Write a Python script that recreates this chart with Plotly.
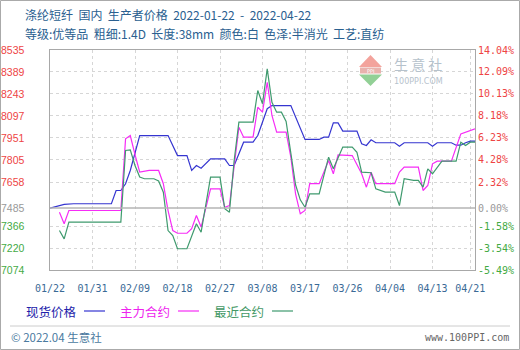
import plotly.graph_objects as go

# ---------------- data ----------------
spot_dates = ["2022-01-22","2022-01-25","2022-01-27","2022-02-04","2022-02-05","2022-02-06","2022-02-07","2022-02-08",
              "2022-02-10","2022-02-16","2022-02-18","2022-02-20","2022-02-21","2022-02-22","2022-02-23","2022-02-25",
              "2022-02-28","2022-03-01","2022-03-02","2022-03-03","2022-03-04","2022-03-06","2022-03-07","2022-03-09",
              "2022-03-10","2022-03-14","2022-03-17","2022-03-20","2022-03-21","2022-03-22","2022-03-23","2022-03-24",
              "2022-03-25","2022-03-28","2022-03-29","2022-03-30","2022-03-31","2022-04-01","2022-04-05","2022-04-06",
              "2022-04-07","2022-04-12","2022-04-13","2022-04-14","2022-04-17","2022-04-18","2022-04-19","2022-04-20",
              "2022-04-21","2022-04-22"]
spot_vals = [7485,7510,7514,7514,7602,7602,7647,7735,7967,7967,7834,7834,7735,7768,7750,7812,7812,7768,7768,7846,
             7923,7923,7967,8145,8166,8166,7941,7941,7956,7956,8051,8051,7996,7996,7912,7901,7939,7919,7919,7896,
             7919,7919,7896,7919,7919,7903,7903,7919,7930,7930]

main_dates = ["2022-01-24","2022-01-25","2022-01-26","2022-02-06","2022-02-07","2022-02-08","2022-02-09","2022-02-10",
              "2022-02-12","2022-02-14","2022-02-15","2022-02-16","2022-02-17","2022-02-18","2022-02-20","2022-02-21",
              "2022-02-22","2022-02-23","2022-02-25","2022-02-27","2022-02-28","2022-03-01","2022-03-03","2022-03-04",
              "2022-03-06","2022-03-07","2022-03-08","2022-03-09","2022-03-10","2022-03-11","2022-03-13","2022-03-14",
              "2022-03-15","2022-03-16","2022-03-17","2022-03-18","2022-03-20","2022-03-22","2022-03-23","2022-03-24",
              "2022-03-27","2022-03-29","2022-03-30","2022-03-31","2022-04-01","2022-04-05","2022-04-06","2022-04-07",
              "2022-04-10","2022-04-11","2022-04-12","2022-04-13","2022-04-14","2022-04-17","2022-04-19","2022-04-21",
              "2022-04-22"]
main_vals = [7458,7381,7469,7469,7945,7967,7840,7724,7735,7735,7647,7469,7336,7318,7318,7348,7436,7359,7613,7613,
             7491,7502,8022,7956,7956,8155,8122,8321,8100,7989,7989,7823,7580,7447,7469,7647,7647,7801,7713,7839,
             7834,7713,7624,7724,7647,7647,7724,7757,7757,7602,7635,7779,7797,7797,7978,8000,8012]

near_dates = ["2022-01-24","2022-01-25","2022-01-26","2022-02-06","2022-02-07","2022-02-08","2022-02-09","2022-02-10",
              "2022-02-11","2022-02-13","2022-02-14","2022-02-15","2022-02-16","2022-02-17","2022-02-18","2022-02-20",
              "2022-02-22","2022-02-23","2022-02-25","2022-02-27","2022-02-28","2022-03-01","2022-03-02","2022-03-03",
              "2022-03-06","2022-03-07","2022-03-08","2022-03-09","2022-03-10","2022-03-11","2022-03-12","2022-03-13",
              "2022-03-14","2022-03-15","2022-03-16","2022-03-17","2022-03-18","2022-03-20","2022-03-22","2022-03-23",
              "2022-03-25","2022-03-27","2022-03-28","2022-03-29","2022-03-31","2022-04-01","2022-04-03","2022-04-05",
              "2022-04-06","2022-04-07","2022-04-09","2022-04-10","2022-04-11","2022-04-12","2022-04-13","2022-04-15",
              "2022-04-18","2022-04-19","2022-04-20","2022-04-21","2022-04-22"]
near_vals = [7336,7281,7392,7392,7868,7872,7768,7691,7680,7680,7665,7591,7336,7303,7215,7215,7381,7325,7691,7691,
             7481,7458,7801,8056,8056,8266,8178,8410,8188,8122,8122,8060,7850,7640,7540,7491,7580,7580,7823,7746,
             7890,7890,7856,7724,7720,7613,7591,7591,7502,7680,7669,7669,7624,7746,7713,7797,7797,7923,7901,7923,
             7923]

y_ticks = [8535, 8389, 8243, 8097, 7951, 7805, 7658, 7485, 7366, 7220, 7074]
pct_labels = ["14.04%", "12.09%", "10.13%", "8.18%", "6.23%", "4.28%", "2.32%", "0.00%", "-1.58%", "-3.54%", "-5.49%"]
x_tick_dates = ["2022-01-22","2022-01-31","2022-02-09","2022-02-18","2022-02-27","2022-03-08",
                "2022-03-17","2022-03-26","2022-04-04","2022-04-13","2022-04-21"]
x_tick_labels = ["01/22","01/31","02/09","02/18","02/27","03/08","03/17","03/26","04/04","04/13","04/21"]
base_value = 7485
series_names = ["现货价格", "主力合约", "最近合约"]
title_line1 = "涤纶短纤  国内  生产者价格  2022-01-22  -  2022-04-22"
title_line2 = "等级:优等品  粗细:1.4D  长度:38mm  颜色:白  色泽:半消光  工艺:直纺"

# ---------------- layout helpers ----------------
W, H = 520, 350
L, R, T, B = 50, 45, 50, 80
PW, PH = W - L - R, H - T - B

def px(x):
    return (x - L) / PW

def py(y):
    return (H - B - y) / PH

BLUE = "#3535d0"
MAGENTA = "#f62cf6"
GREEN = "#3f9a6e"
RED_T = "#ee4444"
GRAY_T = "#999999"
GREEN_T = "#44aa44"
CJK = "Noto Sans CJK SC"

fig = go.Figure()
colors = [BLUE, MAGENTA, GREEN]
for name, xs, ys, c in zip(series_names, [spot_dates, main_dates, near_dates],
                           [spot_vals, main_vals, near_vals], colors):
    fig.add_trace(go.Scatter(x=xs, y=ys, mode="lines", name=name,
                             line=dict(color=c, width=1.2), showlegend=False))

grid_vals = [v for v in y_ticks if v != base_value]

fig.update_layout(
    width=W, height=H,
    margin=dict(l=L, r=R, t=T, b=B),
    paper_bgcolor="white", plot_bgcolor="white",
    showlegend=False,
    xaxis=dict(type="date", range=["2022-01-22", "2022-04-22"],
               tickvals=x_tick_dates, ticktext=x_tick_labels,
               showgrid=True, gridcolor="#d6d6d6", griddash="3px,3px", gridwidth=1,
               ticks="outside", ticklen=9, tickcolor="rgba(0,0,0,0)",
               tickfont=dict(family="DejaVu Sans Mono", size=10, color="#3a6a96"),
               showline=True, linecolor="#a8a8a8", linewidth=1, mirror=True,
               zeroline=False, fixedrange=True),
    yaxis=dict(range=[7074, 8535], tickvals=grid_vals, showticklabels=False,
               showgrid=True, gridcolor="#d6d6d6", griddash="3px,3px", gridwidth=1,
               showline=True, linecolor="#a8a8a8", linewidth=1, mirror=True,
               zeroline=False, ticks="", fixedrange=True),
)

ann = []
# left / right axis labels
for v, p in zip(y_ticks, pct_labels):
    if v > base_value:
        c = RED_T
    elif v == base_value:
        c = GRAY_T
    else:
        c = GREEN_T
    ann.append(dict(x=px(27), y=v, xref="paper", yref="y", text=str(v), showarrow=False,
                    xanchor="right", yanchor="middle",
                    font=dict(family="Liberation Sans", size=10.5, color=c)))
    ann.append(dict(x=px(476), y=v, xref="paper", yref="y", text=p, showarrow=False,
                    xanchor="left", yanchor="middle",
                    font=dict(family="DejaVu Sans Mono", size=10, color=c)))

# titles
ann.append(dict(x=px(23), y=py(15), xref="paper", yref="paper", text=title_line1, showarrow=False,
                xanchor="left", yanchor="middle", font=dict(family=CJK, size=12, color="#2a6090")))
ann.append(dict(x=px(23), y=py(34), xref="paper", yref="paper", text=title_line2, showarrow=False,
                xanchor="left", yanchor="middle", font=dict(family=CJK, size=12, color="#2a6090")))

# legend
leg_x = [24, 118, 212]
leg_text_col = ["#2222aa", "#ee22ee", "#449966"]
shapes = []
for xx, name, tc, lc in zip(leg_x, series_names, leg_text_col, colors):
    ann.append(dict(x=px(xx), y=py(311), xref="paper", yref="paper", text=name, showarrow=False,
                    xanchor="left", yanchor="middle", font=dict(family=CJK, size=12.5, color=tc)))
    shapes.append(dict(type="line", xref="paper", yref="paper", x0=px(xx + 60), x1=px(xx + 81),
                       y0=py(311), y1=py(311), line=dict(color=lc, width=1.2)))

# footer
ann.append(dict(x=px(9), y=py(337), xref="paper", yref="paper", text="© 2022.04 生意社", showarrow=False,
                xanchor="left", yanchor="middle", font=dict(family=CJK, size=11.5, color="#4a7aa0")))
ann.append(dict(x=px(511), y=py(337), xref="paper", yref="paper", text="www.100PPI.com", showarrow=False,
                xanchor="right", yanchor="middle", font=dict(family="DejaVu Sans Mono", size=10, color="#666666")))

# watermark
ann.append(dict(x=px(392), y=py(63.5), xref="paper", yref="paper", text="生 意 社", showarrow=False,
                xanchor="left", yanchor="middle", font=dict(family=CJK, size=14, color="#b6c2cc")))
ann.append(dict(x=px(392), y=py(81), xref="paper", yref="paper", text="100PPI.COM", showarrow=False,
                xanchor="left", yanchor="middle", font=dict(family="DejaVu Sans", size=8, color="#b6c2cc")))
ann.append(dict(x=px(370.5), y=py(70.5), xref="paper", yref="paper", text="PPI", showarrow=False,
                xanchor="center", yanchor="middle", font=dict(family="DejaVu Sans", size=5, color="#ffffff")))

def path_px(points):
    s = ""
    for i, (xx, yy) in enumerate(points):
        s += ("M" if i == 0 else "L") + f"{px(xx):.5f},{py(yy):.5f} "
    return s + "Z"

shapes.append(dict(type="path", xref="paper", yref="paper", path=path_px([(370.5, 55), (382, 67), (359, 67)]),
                   fillcolor="#f3a39c", line=dict(width=0)))
shapes.append(dict(type="rect", xref="paper", yref="paper", x0=px(360), x1=px(381), y0=py(67.5), y1=py(73.5),
                   fillcolor="#e8b2ad", line=dict(width=0)))
shapes.append(dict(type="path", xref="paper", yref="paper", path=path_px([(359, 74.5), (382, 74.5), (370.5, 86)]),
                   fillcolor="#92d096", line=dict(width=0)))

# zero line
shapes.append(dict(type="line", xref="paper", yref="y", x0=0, x1=1, y0=base_value, y1=base_value,
                   line=dict(color="#b4b4b4", width=1.5)))
# footer separator
shapes.append(dict(type="line", xref="paper", yref="paper", x0=px(10), x1=px(510), y0=py(326), y1=py(326),
                   line=dict(color="#cccccc", width=1)))
# outer border
shapes.append(dict(type="rect", xref="paper", yref="paper", x0=px(0.5), x1=px(519.5), y0=py(0.5), y1=py(349.5),
                   line=dict(color="#aaaaaa", width=1)))

fig.update_layout(annotations=ann, shapes=shapes)
fig.write_html("out.html", config={"displayModeBar": False})
